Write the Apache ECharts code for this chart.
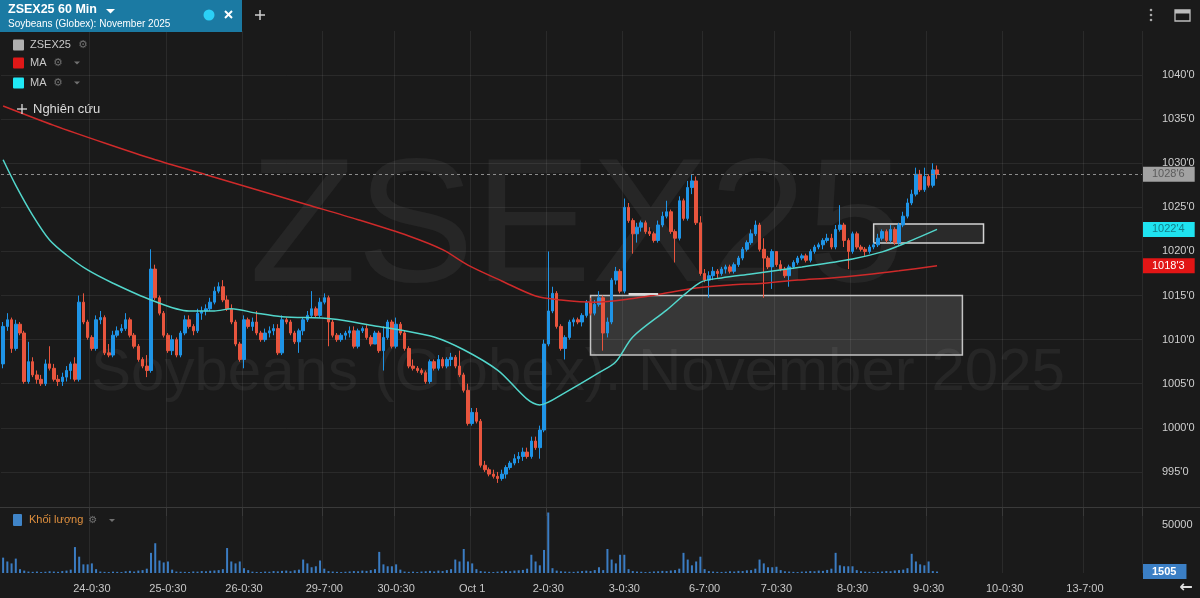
<!DOCTYPE html>
<html><head><meta charset="utf-8">
<script src="https://cdn.jsdelivr.net/npm/echarts@6/dist/echarts.min.js"></script>
<style>html,body{margin:0;padding:0;background:#1a1a1a;}#c{width:1200px;height:598px;}</style>
</head><body><div id="c"></div>
<script>
// ---- time slots (60 min bars, UTC+7 labels) ----
const nightHours = ['7:00','8:00','9:00','10:00','11:00','12:00','13:00','14:00','15:00','16:00','17:00','18:00','19:00'];
const dayHours = ['20:30','21:30','22:30','23:30'];
const sessions = [['22','23-0:30'],['23','24-0:30'],['24','25-0:30'],['25','26-0:30'],['26','27-0:30'],['29','30-0:30'],['30','Oct 1'],['1','2-0:30'],['2','3-0:30'],['3','4-0:30'],['6','7-0:30'],['7','8-0:30'],['8','9-0:30'],['9','10-0:30'],['10','11-0:30'],['13','14-0:30']];
const tickLabels = ['24-0:30','25-0:30','26-0:30','29-7:00','30-0:30','Oct 1','2-0:30','3-0:30','6-7:00','7-0:30','8-0:30','9-0:30','10-0:30','13-7:00'];
const allSlots = [];
sessions.forEach(([d, end]) => { nightHours.forEach(h => allSlots.push(d + '-' + h)); dayHours.forEach(h => allSlots.push(d + '-' + h)); allSlots.push(end); });
const categories = allSlots.slice(14, 14 + 270);

// ---- price data (cents/bu) ----
const opens = [1007.25,1011.5,1012.25,1009,1011.75,1010.75,1005.25,1007.5,1006,1005.5,
1005,1007.25,1006.75,1005.5,1005.25,1005.75,1006.5,1007.25,1005.5,1014.25,
1012,1010.25,1009,1012.25,1012.5,1008.5,1008.25,1010.5,1011,1011.25,
1012.25,1010.5,1009.25,1007.75,1007,1006.5,1018,1014.75,1013,1010.5,
1008.75,1010,1008.25,1010.75,1012.25,1011.5,1011,1013,1013.25,1013.5,
1014.25,1015.5,1016,1014.5,1013.5,1012,1009.5,1007.75,1012.25,1011.5,
1012,1010.75,1010,1010.75,1011,1011.25,1008.5,1012.25,1012,1010.75,
1009.75,1011,1012.25,1012.75,1013.5,1012.75,1014.25,1014.75,1012,1010.5,
1010,1010.5,1010.75,1011,1009.25,1011,1011.25,1010.25,1009.5,1010.75,
1008.75,1010.25,1012,1009.25,1011.75,1010.75,1009,1007,1006.75,1006.5,
1006.25,1005.25,1007.5,1006.75,1007.75,1007,1007.75,1008,1007,1006,
1004.25,1000.5,1001.75,1000.75,995.75,995.25,994.75,994.5,994.25,994.75,
995.5,996,996.5,996.75,997.25,996.75,998.5,997.75,999.75,1009.5,
1013.25,1015.25,1011.5,1009,1010.25,1012,1012.25,1012,1012.75,1014.25,
1013,1014,1014.75,1010.75,1012,1016.75,1017.75,1015.5,1025,1023.5,
1022,1022.75,1023.25,1022.25,1022,1021.25,1023,1024,1024.5,1022.25,
1021.5,1025.75,1023.75,1027.25,1028,1023.25,1017.5,1016.75,1017.25,1017.75,
1017.5,1018,1018.25,1017.75,1018.5,1019.25,1020.25,1021,1022,1023,
1020.25,1019.25,1018.25,1020,1018.5,1018,1017.25,1018.25,1018.75,1019.25,
1019.5,1019,1020,1020.5,1020.75,1021.25,1021.5,1020.5,1022.5,1023,
1021.25,1020,1022,1020.5,1020.25,1020,1020.5,1020.75,1021.5,1022.25,
1021.25,1022.5,1021,1023,1024,1025.5,1026.5,1028.75,1027,1028.5,
1027.5,1029.25];
const closes = [1011.5,1012.25,1009,1011.75,1010.75,1005.25,1007.5,1006,1005.5,1005,
1007.25,1006.75,1005.5,1005.25,1005.75,1006.5,1007.25,1005.5,1014.25,1012,
1010.25,1009,1012.25,1012.5,1008.5,1008.25,1010.5,1011,1011.25,1012.25,
1010.5,1009.25,1007.75,1007,1006.5,1018,1014.75,1013,1010.5,1008.75,
1010,1008.25,1010.75,1012.25,1011.5,1011,1013,1013.25,1013.5,1014.25,
1015.5,1016,1014.5,1013.5,1012,1009.5,1007.75,1012.25,1011.5,1012,
1010.75,1010,1010.75,1011,1011.25,1008.5,1012.25,1012,1010.75,1009.75,
1011,1012.25,1012.75,1013.5,1012.75,1014.25,1014.75,1012,1010.5,1010,
1010.5,1010.75,1011,1009.25,1011,1011.25,1010.25,1009.5,1010.75,1008.75,
1010.25,1012,1009.25,1011.75,1010.75,1009,1007,1006.75,1006.5,1006.25,
1005.25,1007.5,1006.75,1007.75,1007,1007.75,1008,1007,1006,1004.25,
1000.5,1001.75,1000.75,995.75,995.25,994.75,994.5,994.25,994.75,995.5,
996,996.5,996.75,997.25,996.75,998.5,997.75,999.75,1009.5,1013.25,
1015.25,1011.5,1009,1010.25,1012,1012.25,1012,1012.75,1014.25,1013,
1014,1014.75,1010.75,1012,1016.75,1017.75,1015.5,1025,1023.5,1022,
1022.75,1023.25,1022.25,1022,1021.25,1023,1024,1024.5,1022.25,1021.5,
1025.75,1023.75,1027.25,1028,1023.25,1017.5,1016.75,1017.25,1017.75,1017.5,
1018,1018.25,1017.75,1018.5,1019.25,1020.25,1021,1022,1023,1020.25,
1019.25,1018.25,1020,1018.5,1018,1017.25,1018.25,1018.75,1019.25,1019.5,
1019,1020,1020.5,1020.75,1021.25,1021.5,1020.5,1022.5,1023,1021.25,
1020,1022,1020.5,1020.25,1020,1020.5,1020.75,1021.5,1022.25,1021.25,
1022.5,1021,1023,1024,1025.5,1026.5,1028.75,1027,1028.5,1027.5,
1029.25,1028.75];
const lows = [1006.75,1011,1008.5,1008.75,1010.5,1005,1005,1005.75,1005,1004.75,
1004.75,1006.5,1005.25,1004.75,1004.75,1005.25,1005.5,1005.25,1005.25,1011.75,
1010,1008.75,1008.75,1011.75,1008.25,1008,1008,1010.25,1010.75,1011,
1010.25,1009,1007.5,1006.75,1005.75,1006.25,1014.5,1012.75,1010.25,1008.5,
1008.25,1008,1008,1010.5,1011.25,1010.5,1010.75,1012.25,1012.75,1013.25,
1014,1015.25,1014.25,1013.25,1011.75,1009.25,1007.5,1006.75,1011.25,1011,
1010.5,1009.75,1009.75,1010.25,1010.5,1008.25,1008.25,1011.75,1010.5,1009.5,
1008.5,1010.5,1012,1012.5,1012.5,1012.5,1014,1009.25,1010.25,1009.75,
1009.75,1010,1010.25,1009,1009,1010.75,1010,1009.25,1009.5,1008.5,
1006.5,1010,1009,1009,1010.5,1008.75,1006.75,1006.5,1006.25,1006,
1005,1005,1006.5,1006.5,1006.75,1006.75,1007,1006.75,1005.75,1004,
1000.25,1000.25,1000.5,995.5,995,994.5,994.25,993.75,994,994.25,
995.25,995.75,996,996.25,996.5,996.5,997.5,996.5,999.5,1009.25,
1013,1011.25,1008.75,1007.75,1010,1011.5,1011.75,1011.5,1012.5,1012.75,
1012.75,1013.75,1008.75,1010.25,1011.75,1016.25,1015.25,1015.25,1023.25,1019.75,
1021,1022.25,1022,1021.75,1021,1021,1022.75,1023.75,1022,1018.75,
1021.25,1023.5,1023.5,1026.5,1023,1017.25,1016.5,1014.75,1016.75,1017,
1017.25,1017.5,1017.5,1017.5,1018.25,1019,1020,1020.75,1021.75,1020,
1014.75,1018,1015.75,1018.25,1017.75,1017,1016,1018,1018.5,1019,
1018.75,1018.75,1019.75,1020.25,1020.25,1021,1020.25,1020.25,1022.25,1020.5,
1018,1019.75,1020.25,1020,1019.5,1019.75,1020.25,1020.5,1021.25,1021,
1021,1020.75,1020.75,1022.75,1023.75,1025.25,1026.25,1026.75,1026.75,1027.25,
1027.25,1028.25];
const highs = [1012,1013,1012.5,1012.25,1012,1011,1009.75,1008,1006.5,1006,
1007.75,1009.25,1007.25,1006,1006.25,1007,1007.5,1008,1015,1015.25,
1012.25,1010.5,1012.75,1013.25,1012.75,1009.5,1011,1011.5,1011.75,1013,
1012.5,1010.75,1009.5,1008,1008.25,1020.25,1018.5,1015,1013.25,1010.75,
1010.5,1010.25,1011,1012.75,1012.75,1011.75,1013.5,1013.75,1014,1014.75,
1016,1016.5,1016.75,1015,1014,1012.25,1009.75,1012.75,1012.5,1012.5,
1013.25,1011,1011.25,1011.5,1011.75,1011.75,1012.75,1012.5,1012.25,1011,
1011.25,1012.5,1013.25,1015.5,1013.75,1014.75,1015.25,1015,1012.25,1010.75,
1010.75,1011,1011.5,1011.5,1011.25,1011.5,1011.75,1010.5,1011,1011,
1011.5,1012.25,1012.25,1012.5,1012,1011,1009.25,1007.75,1007,1006.75,
1006.5,1007.75,1007.75,1008.25,1008,1008,1008.5,1008.25,1008.75,1006.25,
1005,1002.25,1002.25,1001,996.25,995.5,995.25,995,995.25,995.75,
996.25,997,997.25,997.75,997.75,999,999,1000.25,1010,1020,
1016,1015.5,1011.75,1010.5,1012.25,1012.5,1012.5,1013,1014.5,1014.75,
1014.5,1015.5,1015,1012.5,1017,1018.25,1018,1026,1025.5,1023.75,
1023.25,1023.5,1023.5,1022.75,1022.25,1023.5,1024.5,1025.75,1024.75,1022.5,
1026.25,1026,1028,1028.75,1028.5,1024,1018,1017.75,1018.25,1018,
1018.25,1018.5,1018.5,1018.75,1019.5,1020.5,1021.25,1022.5,1023.5,1023.25,
1021.5,1019.5,1020.25,1020,1019,1018.25,1018.5,1019,1019.5,1019.75,
1019.75,1020.25,1020.75,1021,1021.5,1022,1022,1023,1025.25,1023.25,
1021.5,1022.25,1022.25,1020.75,1020.5,1020.75,1021,1022,1022.5,1022.5,
1023,1022.75,1023.25,1024.5,1026,1027,1029.5,1029.25,1029.5,1028.75,
1030,1029.75];
const volumes = [16000,12000,10000,15000,
4000,2500,1500,1200,1500,1000,1300,1800,1500,1200,2000,2500,3500, 27000,17000,9000,9000,10000,
4000,1500,1200,1000,1400,1200,1000,1800,2200,1500,2500,3000,4500, 21000,31000,13000,11000,12000,
3500,1500,1300,1200,1000,1600,1400,2000,1800,2300,2600,3000,4000, 26000,12000,10000,12000,5000,
3000,1400,1100,1000,1500,1300,2000,1700,2200,2500,1800,2800,3500, 14000,10000,6000,7000,13000,
4500,2000,1500,1200,1000,1300,1600,2000,1800,2500,2200,3000,4000, 22000,9000,7000,7000,9000,
3500,1500,1200,1400,1000,1500,1800,2200,1600,2500,2000,3000,4000, 14000,12000,25000,12000,10000,
4000,2000,1500,1200,1000,1400,1700,2200,1800,2500,2800,3200,4500, 19000,12000,8000,24000,63000,
5000,2500,1800,1500,1300,1200,1600,2000,2400,2000,3000,6000,3000, 25000,14000,10000,19000,19000,
4000,2000,1500,1300,1000,1200,1600,1800,2200,2000,2600,3000,4500, 21000,14000,8000,12000,17000,
4000,2000,1500,1200,1100,1300,1800,1500,2200,2000,2800,3000,4500, 14000,10000,6000,6000,6500,
3000,1800,1500,1200,1000,1400,1600,2000,1800,2500,2200,3200,4500, 21000,8000,7000,7000,7000,
3000,1800,1400,1200,1000,1300,1500,2000,1800,2600,3000,3500,5000, 20000,12000,9000,8000,12000,
2000,1505];

// ---- moving averages: [bar index, value] ----
const maSlow = [[0,1036.5],[12,1034.3],[24,1032.3],[36,1030.4],[48,1028.7],[60,1027.0],[72,1025.3],[84,1023.6],[96,1021.75],[104,1020.2],[110,1018.45],[118,1016.65],[126,1014.95],[132,1014.5],[140,1014.25],[148,1014.6],[156,1015.2],[164,1015.85],[172,1016.2],[180,1016.4],[188,1016.75],[196,1017.0],[204,1017.35],[212,1017.8],[221,1018.375]];
const maFast = [[0,1030.4],[3,1027.5],[7,1024.1],[11,1021.3],[15,1019.6],[20,1017.9],[26,1016.4],[35,1014.5],[44,1013.25],[50,1013.25],[54,1013.5],[60,1013.0],[66,1012.6],[78,1012.35],[88,1011.55],[94,1011.1],[102,1010.3],[109,1008.85],[117,1006.55],[127,1002.6],[133,1004.0],[141,1006.25],[145,1007.5],[149,1010.3],[157,1013.35],[165,1016.5],[170,1017.0],[177,1017.45],[189,1018.25],[201,1019.15],[208,1019.95],[213,1020.85],[221,1022.5]];

// ---- drawings: [startIndex, endIndex, lowPrice, highPrice] ----
const zoneBig = [139, 227, 1008.25, 1015.0];
const zoneSmall = [206, 232, 1020.95, 1023.1];
const supportLine = [148, 155, 1015.25];
const lastPrice = 1028.75;

const fmtPrice = v => { const w = Math.floor(v + 1e-9); return w + "'" + Math.round((v - w) * 8); };
const isTick = (idx, val) => tickLabels.includes(val);
const candles = opens.map((o, i) => [o, closes[i], lows[i], highs[i]]);

const chart = echarts.init(document.getElementById('c'));
const FONT = '"Liberation Sans", Arial, sans-serif';
const tag = (bg, fg) => ({ show: true, position: 'end', distance: 1, backgroundColor: bg, color: fg, padding: [2, 10, 2, 9], fontSize: 11, fontFamily: FONT });
const hiddenLine = { color: 'rgba(0,0,0,0)', width: 1, type: 'solid' };

const g = [];
// watermark
g.push({ type: 'text', x: 577, y: 232, z: 0, style: { text: 'ZSEX25', align: 'center', verticalAlign: 'middle', font: '176px ' + FONT, fill: 'rgba(255,255,255,0.055)' } });
g.push({ type: 'text', x: 578, y: 373, z: 0, style: { text: 'Soybeans (Globex): November 2025', align: 'center', verticalAlign: 'middle', font: '60px ' + FONT, fill: 'rgba(255,255,255,0.055)' } });
// header
g.push({ type: 'rect', z: 100, shape: { x: 0, y: 0, width: 242, height: 32 }, style: { fill: '#1b7aa3' } });
g.push({ type: 'text', z: 101, x: 8, y: 3, style: { text: 'ZSEX25 60 Min', font: 'bold 12.5px ' + FONT, fill: '#ffffff' } });
g.push({ type: 'polygon', z: 101, shape: { points: [[106, 9], [115, 9], [110.5, 13.5]] }, style: { fill: '#ffffff' } });
g.push({ type: 'text', z: 101, x: 8, y: 19, style: { text: 'Soybeans (Globex): November 2025', font: '10px ' + FONT, fill: '#ffffff' } });
g.push({ type: 'circle', z: 101, shape: { cx: 209, cy: 15, r: 5.5 }, style: { fill: '#2bd0f6' } });
g.push({ type: 'line', z: 101, shape: { x1: 225, y1: 11, x2: 232, y2: 18 }, style: { stroke: '#fff', lineWidth: 2 } });
g.push({ type: 'line', z: 101, shape: { x1: 232, y1: 11, x2: 225, y2: 18 }, style: { stroke: '#fff', lineWidth: 2 } });
g.push({ type: 'line', z: 101, shape: { x1: 255, y1: 15, x2: 265, y2: 15 }, style: { stroke: '#cfcfcf', lineWidth: 1.5 } });
g.push({ type: 'line', z: 101, shape: { x1: 260, y1: 10, x2: 260, y2: 20 }, style: { stroke: '#cfcfcf', lineWidth: 1.5 } });
// legend rows
const legendRows = [[45, '#b0b0b0', 'ZSEX25', 83, false], [63, '#e01818', 'MA', 58, true], [83, '#20e8f5', 'MA', 58, true]];
legendRows.forEach(([y, c, t, gx, dd]) => {
  g.push({ type: 'rect', z: 100, shape: { x: 13, y: y - 5.5, width: 11, height: 11, r: 1 }, style: { fill: c } });
  g.push({ type: 'text', z: 100, x: 30, y: y, style: { text: t, verticalAlign: 'middle', font: '11px ' + FONT, fill: '#c8c8c8' } });
  g.push({ type: 'text', z: 100, x: gx, y: y, style: { text: '⚙', align: 'center', verticalAlign: 'middle', font: '11px "DejaVu Sans"', fill: '#707070' } });
  if (dd) g.push({ type: 'polygon', z: 100, shape: { points: [[74, y - 1.5], [80, y - 1.5], [77, y + 1.5]] }, style: { fill: '#707070' } });
});
g.push({ type: 'line', z: 100, shape: { x1: 17, y1: 109, x2: 27, y2: 109 }, style: { stroke: '#dcdcdc', lineWidth: 1.3 } });
g.push({ type: 'line', z: 100, shape: { x1: 22, y1: 104, x2: 22, y2: 114 }, style: { stroke: '#dcdcdc', lineWidth: 1.3 } });
g.push({ type: 'text', z: 100, x: 33, y: 109, style: { text: 'Nghiên cứu', verticalAlign: 'middle', font: '13px ' + FONT, fill: '#dcdcdc' } });
// top right icons
[10, 15, 20].forEach(y => g.push({ type: 'circle', z: 100, shape: { cx: 1151, cy: y, r: 1.3 }, style: { fill: '#a8a8a8' } }));
g.push({ type: 'rect', z: 100, shape: { x: 1175, y: 10, width: 15, height: 11 }, style: { fill: 'none', stroke: '#bdbdbd', lineWidth: 1.3 } });
g.push({ type: 'rect', z: 100, shape: { x: 1175, y: 10, width: 15, height: 3.5 }, style: { fill: '#bdbdbd' } });
// pane separator + volume legend
g.push({ type: 'line', z: 100, shape: { x1: 0, y1: 507.5, x2: 1200, y2: 507.5 }, style: { stroke: '#3a3a3a', lineWidth: 1 } });
g.push({ type: 'rect', z: 100, shape: { x: 13, y: 514, width: 9, height: 12, r: 1 }, style: { fill: '#3f84c8' } });
g.push({ type: 'text', z: 100, x: 29, y: 520, style: { text: 'Khối lượng', verticalAlign: 'middle', font: '11px ' + FONT, fill: '#e0903e' } });
g.push({ type: 'text', z: 100, x: 93, y: 520, style: { text: '⚙', align: 'center', verticalAlign: 'middle', font: '10px "DejaVu Sans"', fill: '#707070' } });
g.push({ type: 'polygon', z: 100, shape: { points: [[109, 519], [115, 519], [112, 522]] }, style: { fill: '#707070' } });
g.push({ type: 'text', z: 100, x: 1186, y: 588, style: { text: '←', align: 'center', verticalAlign: 'middle', font: 'bold 16px "DejaVu Sans"', fill: '#e0e0e0' } });

const splitCol = 'rgba(255,255,255,0.07)';
const option = {
  backgroundColor: '#1a1a1a',
  animation: false,
  textStyle: { fontFamily: FONT },
  grid: [
    { left: 1, right: 58, top: 31, height: 485 },
    { left: 1, right: 58, top: 508, height: 65 }
  ],
  xAxis: [
    { type: 'category', gridIndex: 0, data: categories, boundaryGap: true,
      axisLine: { show: false }, axisTick: { show: false }, axisLabel: { show: false },
      splitLine: { show: true, interval: isTick, lineStyle: { color: splitCol } } },
    { type: 'category', gridIndex: 1, data: categories, boundaryGap: true,
      axisLine: { show: false }, axisTick: { show: false },
      axisLabel: { show: true, interval: isTick, color: '#c8c8c8', fontSize: 11, margin: 10 },
      splitLine: { show: true, interval: isTick, lineStyle: { color: splitCol } } }
  ],
  yAxis: [
    { type: 'value', gridIndex: 0, position: 'right', min: 990, max: 1045, interval: 5,
      axisLine: { show: false }, axisTick: { show: false },
      axisLabel: { color: '#cfcfcf', fontSize: 11, margin: 20, showMinLabel: false, showMaxLabel: false, formatter: fmtPrice },
      splitLine: { show: true, showMinLine: false, showMaxLine: false, lineStyle: { color: splitCol } } },
    { type: 'value', gridIndex: 1, position: 'right', min: 0, max: 67700, interval: 50000,
      axisLine: { show: false }, axisTick: { show: false },
      axisLabel: { color: '#cfcfcf', fontSize: 11, margin: 20, showMinLabel: false, showMaxLabel: false, formatter: v => (v === 50000 ? '50000' : '') },
      splitLine: { show: false } }
  ],
  series: [
    { type: 'candlestick', name: 'ZSEX25', xAxisIndex: 0, yAxisIndex: 0, data: candles, barWidth: 3,
      itemStyle: { color: '#1f94e6', color0: '#e8553e', borderColor: '#1f94e6', borderColor0: '#e8553e', borderWidth: 1 },
      markArea: { silent: true, data: [
        [{ coord: [zoneBig[0], zoneBig[3]], itemStyle: { color: 'rgba(255,255,255,0.13)', borderColor: '#c4c4c4', borderWidth: 1.5 } }, { coord: [zoneBig[1], zoneBig[2]] }],
        [{ coord: [zoneSmall[0], zoneSmall[3]], itemStyle: { color: 'rgba(255,255,255,0.07)', borderColor: '#d4d4d4', borderWidth: 1.5 } }, { coord: [zoneSmall[1], zoneSmall[2]] }]
      ] },
      markLine: { silent: true, symbol: 'none', animation: false, data: [
        { yAxis: lastPrice, lineStyle: { type: [3, 3], color: '#8c8c8c', width: 1 }, label: Object.assign(tag('#a2a2a2', '#5c5c5c'), { formatter: fmtPrice(lastPrice) }) },
        [{ coord: [supportLine[0], supportLine[2]], lineStyle: { type: 'solid', color: '#d8d8d8', width: 2 }, label: { show: false } }, { coord: [supportLine[1], supportLine[2]] }]
      ] } },
    { type: 'line', name: 'MA', xAxisIndex: 0, yAxisIndex: 0, data: maSlow, showSymbol: false, smooth: 0.3,
      lineStyle: { color: '#cf2a2a', width: 1.5 },
      markLine: { silent: true, symbol: 'none', animation: false, data: [{ yAxis: maSlow[maSlow.length - 1][1], lineStyle: hiddenLine, label: Object.assign(tag('#e21515', '#ffffff'), { formatter: fmtPrice(maSlow[maSlow.length - 1][1]) }) }] } },
    { type: 'line', name: 'MA2', xAxisIndex: 0, yAxisIndex: 0, data: maFast, showSymbol: false, smooth: 0.3,
      lineStyle: { color: '#52d6cb', width: 1.5 },
      markLine: { silent: true, symbol: 'none', animation: false, data: [{ yAxis: maFast[maFast.length - 1][1], lineStyle: hiddenLine, label: Object.assign(tag('#1fe3f0', '#127f8a'), { formatter: fmtPrice(maFast[maFast.length - 1][1]) }) }] } },
    { type: 'bar', name: 'Volume', xAxisIndex: 1, yAxisIndex: 1, data: volumes, barWidth: 2,
      itemStyle: { color: '#3b7cc2' },
      markLine: { silent: true, symbol: 'none', animation: false, data: [{ yAxis: volumes[volumes.length - 1], lineStyle: hiddenLine, label: Object.assign(tag('#3b7fc5', '#ffffff'), { formatter: String(volumes[volumes.length - 1]), fontWeight: 'bold' }) }] } }
  ],
  graphic: { elements: g }
};
chart.setOption(option);
</script>
</body></html>
